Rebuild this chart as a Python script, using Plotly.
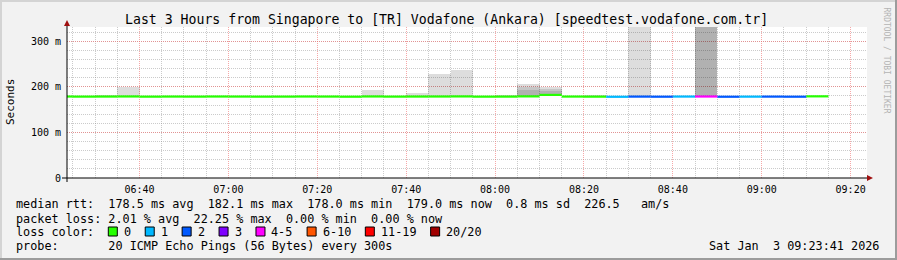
import plotly.graph_objects as go
from datetime import datetime, timedelta

# ---------------- data ----------------
bucket_start = "2026-01-03 06:20:00"
bucket_seconds = 300
x_range = ["2026-01-03 06:23:41", "2026-01-03 09:23:41"]

# median rtt per 5-minute bucket (ms)
median_ms = [178.6, 178.4, 178.5, 178.7, 178.3, 178.5, 178.4, 178.6, 178.5, 178.3,
             178.4, 178.6, 178.5, 178.2, 178.7, 178.4, 178.5, 178.6, 178.8, 178.3,
             178.4, 178.9, 182.1, 178.5, 178.3, 178.0, 178.4, 178.2, 178.5, 178.6,
             178.1, 178.3, 178.4, 178.2, 179.0]
# lost pings (of 20) per bucket
loss_count = [0, 0, 0, 0, 0, 0, 0, 0, 0, 0,
              0, 0, 0, 0, 0, 0, 0, 0, 0, 0,
              0, 0, 0, 0, 0, 1, 2, 2, 1, 4.45,
              2, 1, 2, 2, 0]
# smoke (ping spread) upper levels per bucket (ms), None = no smoke
smoke_hi = [None, None, 183, 200, None, None, None, None, None, None,
            None, None, None, None, 194, None, 187, 229, 236, None,
            183, 205, 200, None, 183, None, 400, None, None, 400,
            None, None, None, None, None]
smoke_mid = [None] * 21 + [200, 196] + [None] * 6 + [400] + [None] * 5
smoke_lo = [None] * 21 + [194, 191] + [None] * 6 + [400] + [None] * 5

y_tick_vals = [0, 100, 200, 300]
y_tick_text = ["0", "100 m", "200 m", "300 m"]

title_text = "Last 3 Hours from Singapore to [TR] Vodafone (Ankara) [speedtest.vodafone.com.tr]"
stat_lines = [
    "median rtt:  178.5 ms avg  182.1 ms max  178.0 ms min  179.0 ms now  0.8 ms sd  226.5   am/s",
    "packet loss: 2.01 % avg  22.25 % max  0.00 % min  0.00 % now",
    "loss color:",
    "probe:       20 ICMP Echo Pings (56 Bytes) every 300s",
]
loss_labels = ["0", "1", "2", "3", "4-5", "6-10", "11-19", "20/20"]
loss_limits = [0, 1, 2, 3, 5, 10, 19, 20]
loss_colors = ["#26ff00", "#00b8ff", "#0059ff", "#7e00ff", "#ff00ff", "#ff5500", "#ff0000", "#a10000"]
date_text = "Sat Jan  3 09:23:41 2026"
credit_text = "RRDTOOL / TOBI OETIKER"

# ---------------- geometry helpers ----------------
W, H = 897, 260
L, R, T, B = 67, 30, 27, 82
PW, PH = W - L - R, H - T - B

def px(x):
    return (x - L) / PW

def py(y):
    return (H - B - y) / PH

def nb(s):
    return s.replace(" ", "\u00a0")

FONT = "DejaVu Sans Mono"

t0 = datetime.strptime(bucket_start, "%Y-%m-%d %H:%M:%S")
step = timedelta(seconds=bucket_seconds)
starts = [t0 + i * step for i in range(len(median_ms))]
centers = [s + step / 2 for s in starts]

fig = go.Figure()

# smoke layers
smoke_fills = ["rgba(0,0,0,0.135)", "rgba(0,0,0,0.10)", "rgba(0,0,0,0.10)"]
for layer, fill in zip((smoke_hi, smoke_mid, smoke_lo), smoke_fills):
    ys, bs, xs = [], [], []
    for c, m, h in zip(centers, median_ms, layer):
        if h is not None and h > m:
            xs.append(c)
            ys.append(h - m)
            bs.append(m)
    fig.add_trace(go.Bar(x=xs, y=ys, base=bs, width=bucket_seconds * 1000,
                         marker=dict(color=fill, line=dict(width=0)),
                         showlegend=False, hoverinfo="skip"))

# median line coloured by loss
def loss_idx(v):
    for i, lim in enumerate(loss_limits):
        if v <= lim:
            return i
    return len(loss_limits) - 1

groups = {}
for s, m, lc in zip(starts, median_ms, loss_count):
    k = loss_idx(lc)
    gx, gy = groups.setdefault(k, ([], []))
    gx += [s, s + step, None]
    gy += [m, m, None]
for k, (gx, gy) in groups.items():
    fig.add_trace(go.Scatter(x=gx, y=gy, mode="lines",
                             line=dict(color=loss_colors[k], width=2.2),
                             showlegend=False, hoverinfo="skip"))

GRID_MINOR = "rgba(140,140,140,0.45)"
GRID_MAJOR = "rgba(240,110,110,0.6)"

fig.update_layout(
    width=W, height=H,
    margin=dict(l=L, r=R, t=T, b=B, pad=0),
    paper_bgcolor="#f2f2f2", plot_bgcolor="#ffffff",
    barmode="overlay", bargap=0,
    font=dict(family=FONT, size=10, color="#000000"),
    showlegend=False,
    xaxis=dict(
        type="date", range=x_range,
        tickformat="%H:%M", dtick=20 * 60 * 1000, tick0="2026-01-03 06:40:00",
        showgrid=True, gridcolor=GRID_MAJOR, griddash="1px,1px", gridwidth=1,
        minor=dict(dtick=5 * 60 * 1000, tick0="2026-01-03 06:40:00", showgrid=True,
                   gridcolor=GRID_MINOR, griddash="1px,1px", gridwidth=1),
        showline=False, zeroline=False, ticks="", ticklabelstandoff=4,
        tickfont=dict(family=FONT, size=10, color="#000"),
        fixedrange=True,
    ),
    yaxis=dict(
        range=[0, 331], tickvals=y_tick_vals, ticktext=[nb(t) for t in y_tick_text],
        showgrid=True, gridcolor=GRID_MAJOR, griddash="1px,1px", gridwidth=1,
        minor=dict(dtick=20, showgrid=True, gridcolor=GRID_MINOR, griddash="1px,1px", gridwidth=1),
        showline=False, zeroline=False, ticks="", ticklabelstandoff=5,
        tickfont=dict(family=FONT, size=10, color="#000"),
        fixedrange=True,
    ),
)

shapes = []
# axis lines
shapes.append(dict(type="line", xref="paper", yref="paper", x0=px(62), x1=px(867), y0=py(178), y1=py(178),
                   line=dict(color="#000", width=1)))
shapes.append(dict(type="line", xref="paper", yref="paper", x0=px(67), x1=px(67), y0=py(182), y1=py(25),
                   line=dict(color="#000", width=1)))
# arrows
shapes.append(dict(type="path", xref="paper", yref="paper",
                   path=f"M {px(64)} {py(26)} L {px(70)} {py(26)} L {px(67)} {py(20)} Z",
                   fillcolor="#a01010", line=dict(width=0)))
shapes.append(dict(type="path", xref="paper", yref="paper",
                   path=f"M {px(867)} {py(175)} L {px(867)} {py(181)} L {px(873)} {py(178)} Z",
                   fillcolor="#a01010", line=dict(width=0)))
# frame
shapes.append(dict(type="rect", xref="paper", yref="paper", x0=px(0), x1=px(W), y0=py(0), y1=py(2),
                   fillcolor="#d4d4d4", line=dict(width=0)))
shapes.append(dict(type="rect", xref="paper", yref="paper", x0=px(0), x1=px(2), y0=py(0), y1=py(H),
                   fillcolor="#d4d4d4", line=dict(width=0)))
shapes.append(dict(type="rect", xref="paper", yref="paper", x0=px(0), x1=px(W), y0=py(H - 2), y1=py(H),
                   fillcolor="#9c9c9c", line=dict(width=0)))
shapes.append(dict(type="rect", xref="paper", yref="paper", x0=px(W - 2), x1=px(W), y0=py(0), y1=py(H),
                   fillcolor="#9c9c9c", line=dict(width=0)))

annotations = []
def text(x, y, s, size=11.8, xanchor="left", angle=0, color="#000"):
    annotations.append(dict(x=px(x), y=py(y), xref="paper", yref="paper", text=nb(s),
                            showarrow=False, xanchor=xanchor, yanchor="middle", textangle=angle,
                            font=dict(family=FONT, size=size, color=color), borderpad=0))

text(446, 19.5, title_text, size=13.2, xanchor="center")
text(10, 102, "Seconds", size=11, xanchor="center", angle=-90)
text(886.5, 60, credit_text, size=8, xanchor="center", angle=90, color="#b4b4b4")

CW = 7.1
rows_y = [204.5, 218.5, 232.3, 246.3]
for s, yy in zip(stat_lines, rows_y):
    text(15, yy, s)
text(880, rows_y[3], date_text, xanchor="right")

cx = 108.3
for lab, col in zip(loss_labels, loss_colors):
    shapes.append(dict(type="rect", xref="paper", yref="paper",
                       x0=px(cx), x1=px(cx + 9), y0=py(227), y1=py(236),
                       fillcolor=col, line=dict(color="#000", width=1)))
    text(cx + 14.5, rows_y[2], lab)
    cx += (4.2 + len(lab)) * CW

fig.update_layout(shapes=shapes, annotations=annotations)
fig.write_html("out.html")
